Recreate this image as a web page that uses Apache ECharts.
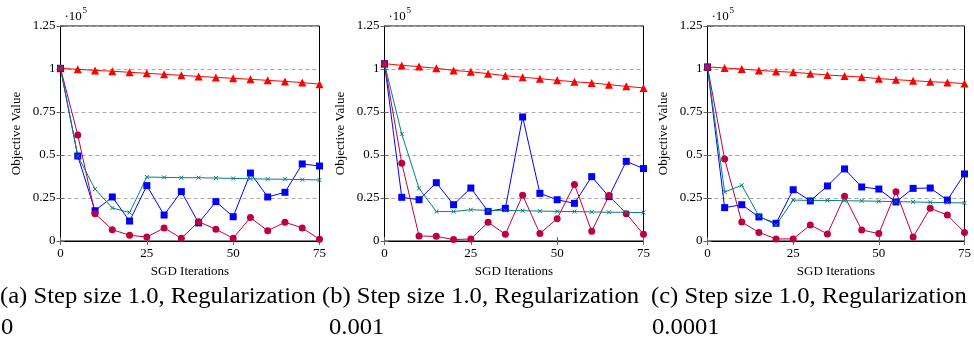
<!DOCTYPE html>
<html>
<head>
<meta charset="utf-8">
<script src="https://cdn.jsdelivr.net/npm/echarts@6/dist/echarts.min.js"></script>
<style>
	html, body { margin: 0; padding: 0; background: #fff; }
	#chart { width: 974px; height: 342px; }
</style>
</head>
<body>
<div id="chart"></div>
<script>
	// SGD iteration steps (x)
	const iterations = [0, 5, 10, 15, 20, 25, 30, 35, 40, 45, 50, 55, 60, 65, 70, 75]

	// objective value in units of 1e5, one array per series and panel
	// (a) regularization 0
	const redA = [1.004, 0.998, 0.992, 0.987, 0.981, 0.975, 0.969, 0.963, 0.957, 0.951, 0.946, 0.940, 0.934, 0.928, 0.921, 0.912]
	const blueA = [1.004, 0.494, 0.176, 0.256, 0.116, 0.322, 0.151, 0.287, 0.105, 0.229, 0.141, 0.395, 0.256, 0.283, 0.448, 0.436]
	const purpleA = [1.004, 0.616, 0.159, 0.066, 0.033, 0.023, 0.076, 0.016, 0.112, 0.068, 0.016, 0.136, 0.060, 0.109, 0.076, 0.010]
	const tealA = [1.004, 0.494, 0.302, 0.192, 0.165, 0.372, 0.370, 0.368, 0.368, 0.366, 0.364, 0.362, 0.360, 0.359, 0.357, 0.355]
	// (b) regularization 0.001
	const redB = [1.031, 1.021, 1.014, 1.004, 0.992, 0.984, 0.973, 0.961, 0.952, 0.944, 0.934, 0.926, 0.919, 0.909, 0.899, 0.890]
	const blueB = [1.031, 0.254, 0.240, 0.339, 0.211, 0.308, 0.172, 0.190, 0.721, 0.277, 0.240, 0.219, 0.374, 0.258, 0.463, 0.421]
	const purpleB = [1.031, 0.452, 0.029, 0.027, 0.008, 0.012, 0.109, 0.039, 0.266, 0.043, 0.130, 0.329, 0.056, 0.264, 0.159, 0.039]
	const tealB = [1.031, 0.622, 0.306, 0.171, 0.171, 0.182, 0.178, 0.178, 0.176, 0.174, 0.172, 0.171, 0.169, 0.167, 0.167, 0.165]
	// (c) regularization 0.0001
	const redC = [1.012, 1.006, 1.000, 0.992, 0.986, 0.981, 0.973, 0.965, 0.959, 0.953, 0.944, 0.938, 0.932, 0.926, 0.922, 0.915]
	const blueC = [1.012, 0.194, 0.211, 0.140, 0.103, 0.298, 0.233, 0.320, 0.419, 0.314, 0.302, 0.227, 0.306, 0.308, 0.238, 0.390]
	const purpleC = [1.012, 0.477, 0.110, 0.050, 0.012, 0.012, 0.093, 0.041, 0.260, 0.064, 0.043, 0.287, 0.023, 0.190, 0.151, 0.050]
	const tealC = [1.012, 0.285, 0.324, 0.145, 0.093, 0.238, 0.236, 0.236, 0.234, 0.233, 0.231, 0.229, 0.227, 0.225, 0.223, 0.221]

	const captions = ['(a) Step size 1.0, Regularization', '(b) Step size 1.0, Regularization', '(c) Step size 1.0, Regularization']
	const captions2 = ['0', '0.001', '0.0001']

	const panels = [
		{ red: redA, blue: blueA, purple: purpleA, teal: tealA },
		{ red: redB, blue: blueB, purple: purpleB, teal: tealB },
		{ red: redC, blue: blueC, purple: purpleC, teal: tealC }
	]

	const serif = '"Liberation Serif", "DejaVu Serif", serif'
	const lefts = [60.5, 384.5, 707.5]
	const capX = [0, 322, 651]
	const capX2 = [1, 329, 652]

	function pairs(ys) {
		return iterations.map((x, i) => [x, ys[i]])
	}

	const chart = echarts.init(document.getElementById('chart'))

	let grid = [], xAxis = [], yAxis = [], series = [], graphic = []
	panels.forEach((p, k) => {
		grid.push({ left: lefts[k], top: 26, width: 259, height: 215, show: true, borderColor: '#000', borderWidth: 1, backgroundColor: 'transparent' })
		// bottom axis with labels
		xAxis.push({
			type: 'value', gridIndex: k, min: 0, max: 75, interval: 25,
			name: 'SGD Iterations', nameLocation: 'middle', nameGap: 24,
			nameTextStyle: { fontFamily: serif, fontSize: 13, color: '#000' },
			axisLine: { show: true, lineStyle: { color: '#000', width: 1 } },
			axisTick: { show: true, inside: true, length: 4, lineStyle: { color: '#666' } },
			axisLabel: { fontFamily: serif, fontSize: 13, color: '#000', margin: 6 },
			splitLine: { show: false }
		})
		// top axis, ticks only
		xAxis.push({
			type: 'value', gridIndex: k, position: 'top', min: 0, max: 75, interval: 25,
			axisLine: { show: false },
			axisTick: { show: true, inside: true, length: 4, lineStyle: { color: '#666' } },
			axisLabel: { show: false },
			splitLine: { show: false }
		})
		yAxis.push({
			type: 'value', gridIndex: k, min: 0, max: 1.25, interval: 0.25,
			name: 'Objective Value', nameLocation: 'middle', nameGap: 37,
			nameTextStyle: { fontFamily: serif, fontSize: 13, color: '#000' },
			axisLine: { show: true, lineStyle: { color: '#000', width: 1 } },
			axisTick: { show: true, inside: true, length: 4, lineStyle: { color: '#666' } },
			axisLabel: { fontFamily: serif, fontSize: 13, color: '#000', margin: 5 },
			splitLine: { show: true, lineStyle: { color: '#aaa', type: [4, 3], width: 1 } }
		})
		yAxis.push({
			type: 'value', gridIndex: k, position: 'right', min: 0, max: 1.25, interval: 0.25,
			axisLine: { show: false },
			axisTick: { show: true, inside: true, length: 4, lineStyle: { color: '#666' } },
			axisLabel: { show: false },
			splitLine: { show: false }
		})
		const xi = k * 2, yi = k * 2
		const base = { type: 'line', xAxisIndex: xi, yAxisIndex: yi, lineStyle: { width: 1 }, animation: false }
		series.push(Object.assign({}, base, {
			name: 'red', data: pairs(p.red), symbol: 'triangle', symbolSize: 8,
			itemStyle: { color: '#ff0000' }, lineStyle: { width: 1, color: '#ff0000' }
		}))
		series.push(Object.assign({}, base, {
			name: 'blue', data: pairs(p.blue), symbol: 'rect', symbolSize: 7,
			itemStyle: { color: '#0000ff' }, lineStyle: { width: 1, color: '#0000ff' }
		}))
		series.push(Object.assign({}, base, {
			name: 'purple', data: pairs(p.purple), symbol: 'circle', symbolSize: 7,
			itemStyle: { color: '#bf0040' }, lineStyle: { width: 1, color: '#bf0040' }
		}))
		series.push(Object.assign({}, base, {
			name: 'teal', data: pairs(p.teal), symbol: 'path://M0,0L10,10M10,0L0,10', symbolSize: 4,
			itemStyle: { color: '#008080', borderColor: '#008080', borderWidth: 1 }, lineStyle: { width: 1, color: '#008080' }
		}))
		// ·10^5 exponent marker
		graphic.push({ type: 'text', x: lefts[k] + 4, y: 10, style: { text: '·10', font: '13px ' + serif, fill: '#000' } })
		graphic.push({ type: 'text', x: lefts[k] + 22, y: 6, style: { text: '5', font: '9px ' + serif, fill: '#000' } })
		// sub-figure captions
		graphic.push({ type: 'text', x: capX[k], y: 285, scaleX: 1.07, style: { text: captions[k], font: '23px ' + serif, fill: '#000' } })
		graphic.push({ type: 'text', x: capX2[k], y: 316, scaleX: 1.07, style: { text: captions2[k], font: '23px ' + serif, fill: '#000' } })
	})

	chart.setOption({
		animation: false,
		grid: grid,
		xAxis: xAxis,
		yAxis: yAxis,
		series: series,
		graphic: graphic
	})
</script>
</body>
</html>
